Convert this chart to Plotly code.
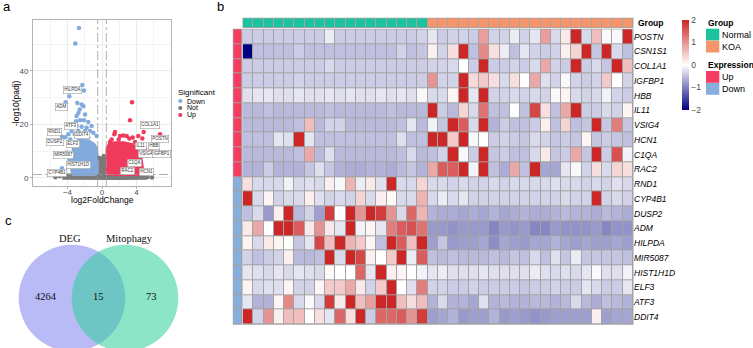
import plotly.graph_objects as go

W, H = 753, 348


def fx(p):
    return p / W


def fy(p):
    return 1 - p / H


FONT = "Liberation Sans, Arial, sans-serif"
SERIF = "Liberation Serif, Times New Roman, serif"

# ---------------- a: volcano data ----------------
down_x = [-2.67, -3.09, -2.28, -2.09, -3.79, -4.21, -2.86, -2.36, -2.16, -2.59, -2.74, -2.94, -1.97,
          -3.01, -2.55, -2.09, -1.59, -1.20, -2.94, -2.36, -1.78, -3.52, -3.17, -2.74, -1.97, -1.39,
          -1.00, -0.62, -3.90, -4.64, -4.25, -3.67, -2.55, -2.16, -1.59, -3.79, -4.64, -3.52, -4.10]
down_y = [56.0, 50.2, 34.7, 32.7, 30.5, 28.3, 28.0, 27.4, 26.8, 25.6, 24.3, 23.1, 23.7,
          21.2, 21.6, 21.6, 20.9, 19.4, 19.4, 19.1, 18.8, 17.5, 16.3, 17.5, 17.5, 17.5,
          16.9, 15.7, 16.3, 15.4, 15.2, 14.4, 15.7, 14.4, 15.1, 6.8, 3.6, 12.0, 9.5]
up_x = [3.48, 3.25, 4.21, 4.83, 4.68, 6.73, 5.68, 5.76, 4.48, 1.51, 1.43, 2.47, 2.86, 2.09,
        3.17, 3.56, 1.12, 1.93, 0.93, 3.83, 4.10, 5.00, 4.87, 5.33, 6.03, 4.33, 6.30]
up_y = [28.3, 21.6, 15.7, 17.2, 14.7, 16.3, 10.4, 12.0, 12.0, 17.2, 16.3, 15.9, 15.7, 15.7,
        14.7, 15.1, 14.4, 14.4, 13.4, 13.4, 12.0, 11.0, 9.5, 8.3, 8.9, 6.8, 12.0]
not_x = [-5.4, -4.9, 5.3, 5.8, -0.3, 0.2, 0.1]
not_y = [0.3, 0.6, 0.4, 0.2, 7.5, 8.2, 6.0]

# outlines of the dense point clouds
down_core_x = [-0.6, -3.3, -3.45, -3.45, -3.35, -3.2, -2.9, -2.5, -2.0, -1.5, -1.0, -0.7, -0.6, -0.6]
down_core_y = [1.5, 1.5, 3.0, 6.0, 9.0, 12.0, 13.5, 14.2, 14.0, 13.5, 12.5, 11.0, 8.0, 1.5]
up_core_x = [0.65, 4.5, 4.65, 4.5, 4.4, 4.0, 3.5, 2.5, 1.5, 0.9, 0.65, 0.65]
up_core_y = [1.5, 1.5, 3.0, 6.0, 9.0, 11.0, 12.3, 13.0, 13.0, 12.5, 11.0, 1.5]
not_core_x = [-4.6, -4.2, -2.5, -0.6, -0.5, -0.3, 0.2, 0.5, 0.6, 2.5, 4.4, 5.0, 5.0, 2.0, -2.0, -4.6]
not_core_y = [0.1, 0.8, 1.2, 1.3, 4.5, 7.0, 7.5, 4.5, 1.3, 1.2, 1.0, 0.5, 0.1, 0.0, 0.0, 0.1]

label_genes = ["HILPDA", "ADM", "ATF3", "RND1", "DDIT4", "DUSP2", "ELF3", "MIR5087", "HIST1H1D",
               "CYP4B1", "COL1A1", "POSTN", "IL11", "HBB", "VSIG4", "IGFBP1", "C1QA", "RAC2", "HCN1"]
label_x = [-3.40, -4.67, -3.63, -5.53, -2.35, -5.45, -3.33, -4.44, -2.70, -5.18,
           5.53, 6.76, 4.49, 5.99, 5.07, 6.92, 3.79, 2.98, 5.18]
label_y = [32.7, 26.4, 19.3, 17.1, 15.9, 13.6, 12.6, 8.6, 4.9, 2.0,
           19.6, 14.4, 12.0, 11.9, 8.8, 8.8, 5.6, 2.5, 2.2]
lfc_cut = 0.5
padj_cut = 1.3
sig_levels = ["Down", "Not", "Up"]
sig_colors = ["#82AADD", "#7A7A7A", "#F03A5C"]

# ---------------- b: heatmap data ----------------
genes = ["POSTN", "CSN1S1", "COL1A1", "IGFBP1", "HBB", "IL11", "VSIG4", "HCN1", "C1QA", "RAC2",
         "RND1", "CYP4B1", "DUSP2", "ADM", "HILPDA", "MIR5087", "HIST1H1D", "ELF3", "ATF3", "DDIT4"]
expression = ["Up"] * 10 + ["Down"] * 10
samples = ["N%d" % i for i in range(1, 19)] + ["K%d" % i for i in range(1, 21)]
groups = ["Normal"] * 18 + ["KOA"] * 20

POSTN = [-0.4, -0.4, -0.4, -0.4, -0.4, -0.4, -0.4, -0.4, -0.15, -0.4, -0.4, -0.4, -0.4, -0.4, -0.4, -0.4, -0.4, -0.35,
         -0.2, -0.4, -0.35, -0.35, -0.4, 0.9, -0.35, -0.35, -0.15, -0.35, -0.2, 0.9, -0.3, 0.2, 2, -0.3, 0.6, -0.05, -0.05, 2]
CSN1S1 = [-2, -0.5, -0.5, -0.5, -0.5, -0.4, -0.5, -0.5, -0.5, -0.5, -0.5, -0.5, -0.5, -0.5, -0.5, -0.35, -0.5, -0.45,
          0.15, -0.35, 0.3, 2, -0.5, 1.1, 0.3, -0.15, -0.5, -0.2, -0.35, -0.4, -0.35, 0.15, 0.4, 2, -0.45, 2, -0.3, -0.5]
COL1A1 = [-0.4, -0.4, -0.4, -0.4, -0.4, -0.4, -0.4, -0.4, -0.3, -0.4, -0.4, -0.4, -0.4, -0.4, -0.4, -0.4, -0.4, -0.4,
          -0.35, -0.35, -0.3, 0.0, -0.4, 2, -0.4, -0.4, -0.35, -0.4, -0.3, 0.8, -0.35, -0.4, 2, -0.4, -0.3, -0.45, 2, 0.6]
IGFBP1 = [-0.4, -0.4, -0.4, -0.4, -0.4, -0.35, -0.4, -0.4, -0.4, -0.4, -0.4, -0.4, -0.4, -0.4, -0.4, -0.4, -0.4, -0.4,
          1.0, -0.35, -0.35, 2, 0.35, 0.5, 0.3, -0.3, 0.3, 0.0, 0.8, -0.25, -0.35, -0.05, -0.35, -0.4, -0.35, 0.5, 0.0, -0.35]
HBB = [-0.25, -0.2, -0.2, -0.25, -0.25, -0.2, -0.25, -0.25, -0.2, -0.25, -0.2, -0.25, -0.25, -0.2, -0.25, -0.2, -0.25, -0.05,
       -0.3, -0.3, 0.1, 2, -0.2, 2, -0.35, -0.35, -0.3, -0.35, -0.3, -0.35, -0.05, 0.1, -0.3, -0.35, -0.3, -0.1, -0.35, -0.4]
IL11 = [-0.55, -0.55, -0.5, -0.55, -0.55, -0.55, -0.55, -0.55, -0.5, -0.55, -0.55, -0.55, -0.55, -0.55, -0.5, -0.55, -0.55, -0.55,
        2, -0.4, -0.55, 0.4, -0.3, 1.3, -0.5, -0.5, 0.0, -0.5, 1.7, 0.3, -0.5, 0.8, 2, -0.4, -0.4, -0.3, -0.35, 0.1]
VSIG4 = [-0.55, -0.55, -0.55, -0.55, -0.55, -0.5, 0.6, -0.55, -0.35, -0.35, -0.55, -0.55, -0.55, -0.55, -0.55, -0.5, -0.2, -0.55,
         -0.1, -0.45, 2, 1.5, -0.3, 2, -0.6, -0.4, -0.5, -0.5, -0.4, 0.15, -0.5, 0.4, -0.5, -0.45, 2, -0.45, 1.2, -0.45]
HCN1 = [-0.5, -0.5, -0.5, -0.2, -0.25, 2, -0.2, -0.5, -0.5, -0.5, -0.5, -0.5, -0.5, -0.5, -0.5, -0.25, -0.5, -0.5,
        2, 2, 0.5, 2, -0.05, 0.0, -0.4, -0.35, -0.4, -0.45, -0.3, -0.35, -0.45, -0.4, -0.45, 0.1, -0.45, -0.4, -0.45, -0.5]
C1QA = [-0.55, -0.55, -0.55, -0.55, -0.55, -0.5, 0.8, -0.55, -0.25, -0.55, -0.55, -0.55, -0.55, -0.55, -0.55, -0.5, -0.3, -0.55,
        -0.5, -0.35, 2, -0.05, -0.4, 2, -0.45, -0.4, -0.5, -0.5, -0.3, 0.2, -0.45, -0.4, 0.8, -0.45, 2, -0.4, 1.6, -0.1]
RAC2 = [-0.6, -0.6, -0.4, -0.6, -0.6, -0.6, -0.45, -0.25, -0.45, -0.6, -0.65, -0.65, -0.6, -0.6, -0.65, -0.55, -0.45, -0.6,
        0.8, 1.5, 1.5, 2, -0.1, 2, -0.5, -0.65, 0.8, -0.5, 2, -0.7, -0.7, -0.2, -0.05, -0.35, 0.3, -0.3, 0.4, 0.3]
RND1 = [0.3, -0.3, -0.3, -0.3, -0.1, -0.3, -0.25, -0.3, 0.15, -0.05, 0.7, -0.15, 0.2, -0.25, 2, -0.3, -0.3, 0.4,
        -0.3, -0.3, -0.35, -0.3, -0.35, -0.35, -0.3, -0.35, -0.3, -0.3, -0.3, -0.3, -0.25, -0.3, -0.3, -0.35, -0.3, -0.35, -0.25, -0.3]
CYP4B1 = [2, -0.3, 0.1, -0.35, -0.3, -0.3, 0.15, -0.25, -0.35, -0.3, -0.35, 0.4, -0.3, 0.15, 0.05, -0.3, -0.3, 0.7,
          -0.3, -0.15, -0.3, -0.2, -0.35, -0.35, -0.35, -0.35, -0.35, -0.35, -0.35, -0.35, -0.35, -0.3, -0.35, -0.35, 2, -0.35, -0.3, -0.35]
DUSP2 = [-0.5, -0.3, -0.8, 0.15, 2, -0.55, -0.35, -0.75, 1.8, 0.0, 2, 1.0, 2, 1.8, 1.0, -0.3, 1.4, 0.7,
         -0.6, -0.65, -0.65, -0.7, -0.65, -0.7, -0.6, -0.7, -0.65, -0.6, -0.65, -0.65, -0.6, -0.55, -0.6, -0.6, -0.65, -0.55, -0.6, -0.65]
ADM = [0.2, 0.8, 0.0, 2, 2, 1.5, 0.2, 1.0, 0.2, -0.2, 2, -0.1, 0.1, -0.2, 1.2, 1.5, 1.6, 1.3,
       -0.8, -0.8, -0.85, -0.8, -0.8, -0.8, -0.95, -0.8, -0.85, -0.8, -0.95, -0.95, -0.8, -0.85, -0.85, -0.85, -0.8, -0.95, -0.85, -0.85]
HILPDA = [0.1, -0.3, 0.2, 0.1, 0.0, -0.45, -0.2, 1.7, 0.6, 2, 0.7, 0.5, 0.1, -0.5, 2, 1.5, 0.6, 2,
          -0.75, -0.45, -0.8, -0.75, -0.75, -0.7, -0.9, -0.7, -0.75, -0.8, -0.7, -0.7, -0.6, -0.7, -0.75, -0.7, -0.75, -0.75, -0.7, -0.75]
MIR5087 = [-0.35, -0.5, -0.4, -0.35, 0.15, -0.55, -0.55, -0.5, 2, -0.3, 2, 1.7, 0.15, 0.0, 0.5, 2, -0.15, 1.5,
           -0.5, -0.55, -0.5, -0.55, -0.55, -0.55, -0.5, -0.55, -0.45, -0.5, -0.3, -0.5, -0.25, -0.45, -0.15, -0.45, -0.45, -0.45, -0.45, -0.5]
HIST1H1D = [-0.2, -0.25, -0.3, -0.2, -0.3, -0.2, -0.25, -0.3, 0.05, 0.0, 0.0, 1.4, -0.2, 2, 0.15, 0.1, 0.0, -0.1,
            -0.2, -0.15, -0.25, -0.25, -0.25, -0.2, -0.25, -0.25, -0.25, -0.25, -0.15, -0.25, -0.3, -0.25, -0.3, -0.2, -0.05, -0.25, -0.25, -0.1]
ELF3 = [0.1, -0.3, -0.25, -0.25, 0.1, -0.35, -0.35, 0.1, 0.5, 0.5, 0.8, 0.2, -0.35, 0.5, 2, 0.0, -0.25, 1.2,
        -0.35, -0.35, -0.4, -0.4, -0.35, -0.4, -0.4, -0.4, -0.4, -0.45, -0.4, -0.4, -0.35, -0.4, -0.4, -0.2, -0.3, -0.4, -0.4, -0.2]
ATF3 = [-0.2, -0.6, -0.6, 0.1, 1.1, -0.3, -0.05, -0.3, 1.8, 0.2, 2, 0.6, 0.9, 2, 2, 0.6, 0.3, 0.6,
        -0.6, -0.3, -0.6, -0.6, -0.7, -0.25, -0.6, -0.55, -0.6, -0.6, -0.55, -0.55, -0.6, -0.55, -0.3, -0.55, -0.65, -0.5, -0.55, -0.6]
DDIT4 = [2, -0.35, 1.0, 0.15, 0.6, 0.6, 0.0, 0.3, -0.2, 1.4, 0.3, 2, -0.4, 1.4, 1.4, 1.5, 1.0, 1.8,
         -0.75, -0.7, -0.6, -0.8, -0.75, -0.75, -0.6, -0.8, -0.75, -0.8, -0.85, -0.8, -0.75, -0.75, -0.75, -0.75, 0.15, -0.75, -0.7, -0.7]

heat_z = [POSTN, CSN1S1, COL1A1, IGFBP1, HBB, IL11, VSIG4, HCN1, C1QA, RAC2,
          RND1, CYP4B1, DUSP2, ADM, HILPDA, MIR5087, HIST1H1D, ELF3, ATF3, DDIT4]

group_colors = {"Normal": "#1DC29E", "KOA": "#F6956C"}
expr_colors = {"Up": "#F53D62", "Down": "#86AEDF"}

# ---------------- c: venn data ----------------
venn_sets = ["DEG", "Mitophagy"]
venn_counts = [4264, 15, 73]

# =====================================================
fig = go.Figure()

# ---- volcano ----
core_sets = [(not_core_x, not_core_y, sig_colors[1]),
             (down_core_x, down_core_y, sig_colors[0]),
             (up_core_x, up_core_y, sig_colors[2])]
for cx, cy, col in core_sets:
    fig.add_trace(go.Scatter(x=cx, y=cy, mode="lines", fill="toself", fillcolor=col,
                             line=dict(color=col, width=4), xaxis="x", yaxis="y",
                             hoverinfo="skip", showlegend=False))
for px_, py_, col in [(not_x, not_y, sig_colors[1]), (down_x, down_y, sig_colors[0]),
                      (up_x, up_y, sig_colors[2])]:
    fig.add_trace(go.Scatter(x=px_, y=py_, mode="markers",
                             marker=dict(color=col, size=4.5, line=dict(width=0)),
                             xaxis="x", yaxis="y", showlegend=False))

# ---- heatmap ----
fig.add_trace(go.Heatmap(
    z=heat_z, x=samples, y=genes, xaxis="x2", yaxis="y2",
    zmin=-2, zmax=2, xgap=1, ygap=1,
    colorscale=[[0, "#000080"], [0.5, "#FFFFFF"], [1, "#CD2626"]],
    colorbar=dict(x=fx(681.5), xanchor="left", y=fy(65), yanchor="middle",
                  len=90, lenmode="pixels", thickness=6.5, outlinewidth=0,
                  xpad=0, ypad=0,
                  tickvals=[-2, -1, 0, 1, 2], ticktext=["\u22122", "\u22121", "0", "1", "2"],
                  tickfont=dict(size=8.5, color="#4D4D4D", family=FONT), ticks="")))

grp_levels = ["Normal", "KOA"]
fig.add_trace(go.Heatmap(
    z=[[grp_levels.index(g) for g in groups]], x=samples, y=["Group"],
    xaxis="x3", yaxis="y3", zmin=0, zmax=1, xgap=1, showscale=False,
    colorscale=[[0, group_colors["Normal"]], [0.5, group_colors["Normal"]],
                [0.5, group_colors["KOA"]], [1, group_colors["KOA"]]]))

expr_levels = ["Up", "Down"]
fig.add_trace(go.Heatmap(
    z=[[expr_levels.index(e)] for e in expression], x=["Expression"], y=genes,
    xaxis="x4", yaxis="y4", zmin=0, zmax=1, ygap=1, showscale=False,
    colorscale=[[0, expr_colors["Up"]], [0.5, expr_colors["Up"]],
                [0.5, expr_colors["Down"]], [1, expr_colors["Down"]]]))

# ---- layout ----
axis_common = dict(showgrid=False, zeroline=False, showticklabels=False, ticks="")
vol_x = dict(domain=[fx(33), fx(171)], range=[-8, 8], tickvals=[-4, 0, 4],
             showgrid=True, gridcolor="#EBEBEB", gridwidth=0.8,
             minor=dict(tickvals=[-6, -2, 2, 6], showgrid=True, gridcolor="#F4F4F4", gridwidth=0.5),
             zeroline=False, showline=True, mirror=True, linecolor="#B3B3B3", linewidth=0.8,
             ticks="outside", ticklen=2, tickcolor="#B3B3B3", ticklabelstandoff=-4,
             tickfont=dict(size=8, color="#4D4D4D", family=FONT), anchor="y")
vol_y = dict(domain=[fy(186), fy(20)], range=[-3, 59], tickvals=[0, 20, 40],
             showgrid=True, gridcolor="#EBEBEB", gridwidth=0.8,
             minor=dict(tickvals=[10, 30, 50], showgrid=True, gridcolor="#F4F4F4", gridwidth=0.5),
             zeroline=False, showline=True, mirror=True, linecolor="#B3B3B3", linewidth=0.8,
             ticks="outside", ticklen=2, tickcolor="#B3B3B3",
             tickfont=dict(size=8, color="#4D4D4D", family=FONT), anchor="x")

fig.update_layout(
    width=W, height=H, margin=dict(l=0, r=0, t=0, b=0),
    paper_bgcolor="white", plot_bgcolor="white", showlegend=False,
    font=dict(family=FONT, color="black"),
    xaxis=vol_x, yaxis=vol_y,
    xaxis2=dict(domain=[fx(243), fx(633)], anchor="y2", **axis_common),
    yaxis2=dict(domain=[fy(324.3), fy(29.3)], anchor="x2", autorange="reversed",
                showgrid=False, zeroline=False, ticks="", side="right",
                tickfont=dict(size=8.5, color="black", family=FONT, style="italic")),
    xaxis3=dict(domain=[fx(243), fx(633)], anchor="y3", **axis_common),
    yaxis3=dict(domain=[fy(27.4), fy(18.3)], anchor="x3", **axis_common),
    xaxis4=dict(domain=[fx(233.3), fx(241.7)], anchor="y4", **axis_common),
    yaxis4=dict(domain=[fy(324.3), fy(29.3)], anchor="x4", autorange="reversed", **axis_common),
    xaxis5=dict(domain=[0, fx(230)], range=[0, 230], anchor="y5", visible=False),
    yaxis5=dict(domain=[0, fy(200)], range=[348, 200], anchor="x5", visible=False),
)

shapes = []
annotations = []

# threshold lines in volcano
for v in (-lfc_cut, lfc_cut):
    shapes.append(dict(type="line", xref="x", yref="y", x0=v, x1=v, y0=-3, y1=59,
                       line=dict(color="#9A9A9A", width=0.8, dash="dashdot"), layer="above"))
shapes.append(dict(type="line", xref="x", yref="y", x0=-8, x1=8, y0=padj_cut, y1=padj_cut,
                   line=dict(color="#9A9A9A", width=0.8, dash="dashdot"), layer="above"))

# gene labels
for g, lx, ly in zip(label_genes, label_x, label_y):
    annotations.append(dict(x=lx, y=ly, xref="x", yref="y", text=g, showarrow=False,
                            font=dict(size=4.5, color="#333333", family=FONT),
                            bgcolor="white", bordercolor="#8C8C8C", borderwidth=0.5, borderpad=0.8))

# volcano axis titles
annotations.append(dict(x=fx(102), y=fy(200), xref="paper", yref="paper", text="log2FoldChange",
                        showarrow=False, font=dict(size=8.5, color="black"), xanchor="center", yanchor="middle"))
annotations.append(dict(x=fx(16), y=fy(103), xref="paper", yref="paper", text="-log10(padj)",
                        showarrow=False, textangle=-90, font=dict(size=8.5, color="black"),
                        xanchor="center", yanchor="middle"))

# volcano legend
annotations.append(dict(x=fx(176), y=fy(92), xref="paper", yref="paper", text="Significant",
                        showarrow=False, font=dict(size=8, color="black"), xanchor="left", yanchor="middle"))
for i, (lev, col) in enumerate(zip(sig_levels, sig_colors)):
    yy = 101 + 7 * i
    shapes.append(dict(type="circle", xref="paper", yref="paper",
                       x0=fx(178.2), x1=fx(182.4), y0=fy(yy + 2.1), y1=fy(yy - 2.1),
                       fillcolor=col, line=dict(width=0)))
    annotations.append(dict(x=fx(185), y=fy(yy), xref="paper", yref="paper", text=lev,
                            showarrow=False, font=dict(size=7, color="black"),
                            xanchor="left", yanchor="middle"))

# grey borders behind heatmap cells
shapes.append(dict(type="rect", xref="paper", yref="paper", x0=fx(242.5), x1=fx(633.5),
                   y0=fy(324.8), y1=fy(28.8), fillcolor="#A3A3A3", line=dict(width=0), layer="below"))
shapes.append(dict(type="rect", xref="paper", yref="paper", x0=fx(242.5), x1=fx(633.5),
                   y0=fy(27.9), y1=fy(17.8), fillcolor="#A3A3A3", line=dict(width=0), layer="below"))
shapes.append(dict(type="rect", xref="paper", yref="paper", x0=fx(232.8), x1=fx(242.2),
                   y0=fy(324.8), y1=fy(28.8), fillcolor="#A3A3A3", line=dict(width=0), layer="below"))

annotations.append(dict(x=fx(635.5), y=fy(23.3), xref="paper", yref="paper", text="<b>Group</b>",
                        showarrow=False, font=dict(size=8.5, color="black"), xanchor="left", yanchor="middle"))


# heatmap annotation legends
def legend_block(title, ytitle, items, colors):
    annotations.append(dict(x=fx(705.5), y=fy(ytitle), xref="paper", yref="paper", text="<b>%s</b>" % title,
                            showarrow=False, font=dict(size=8.5, color="black"), xanchor="left", yanchor="middle"))
    for k, it in enumerate(items):
        y0 = ytitle + 5.5 + 12 * k
        shapes.append(dict(type="rect", xref="paper", yref="paper", x0=fx(706), x1=fx(719.3),
                           y0=fy(y0 + 11.8), y1=fy(y0), fillcolor=colors[it], line=dict(width=0)))
        annotations.append(dict(x=fx(720), y=fy(y0 + 6), xref="paper", yref="paper", text=it,
                                showarrow=False, font=dict(size=9, color="black"),
                                xanchor="left", yanchor="middle"))


legend_block("Group", 23.2, grp_levels, group_colors)
legend_block("Expression", 65.5, expr_levels, expr_colors)

# ---- venn ----
venn_centers = [(72, 298), (125, 298)]
venn_r = 53.3
shapes.append(dict(type="circle", xref="x5", yref="y5",
                   x0=venn_centers[0][0] - venn_r, x1=venn_centers[0][0] + venn_r,
                   y0=venn_centers[0][1] - venn_r, y1=venn_centers[0][1] + venn_r,
                   fillcolor="rgb(120,125,240)", opacity=0.52, line=dict(width=0)))
shapes.append(dict(type="circle", xref="x5", yref="y5",
                   x0=venn_centers[1][0] - venn_r, x1=venn_centers[1][0] + venn_r,
                   y0=venn_centers[1][1] - venn_r, y1=venn_centers[1][1] + venn_r,
                   fillcolor="rgb(48,208,153)", opacity=0.55, line=dict(width=0)))
annotations.append(dict(x=70, y=238, xref="x5", yref="y5", text=venn_sets[0], showarrow=False,
                        font=dict(size=10.5, family=SERIF, color="#111111")))
annotations.append(dict(x=129.5, y=238, xref="x5", yref="y5", text=venn_sets[1], showarrow=False,
                        font=dict(size=10.5, family=SERIF, color="#111111")))
for val, xx in zip(venn_counts, [45.5, 98.5, 151.5]):
    annotations.append(dict(x=xx, y=296, xref="x5", yref="y5", text=str(val), showarrow=False,
                            font=dict(size=10.5, family=SERIF, color="#111111")))

# panel letters
for letter, lx, ly in [("a", 1, 6), ("b", 215, 6), ("c", 3, 220.5)]:
    annotations.append(dict(x=fx(lx), y=fy(ly), xref="paper", yref="paper", text=letter,
                            showarrow=False, font=dict(size=13, color="black"),
                            xanchor="left", yanchor="middle"))

fig.update_layout(shapes=shapes, annotations=annotations)
fig.write_html("out.html", config={"displayModeBar": False},
               post_script="document.body.style.margin='0px';document.body.style.padding='0px';")
